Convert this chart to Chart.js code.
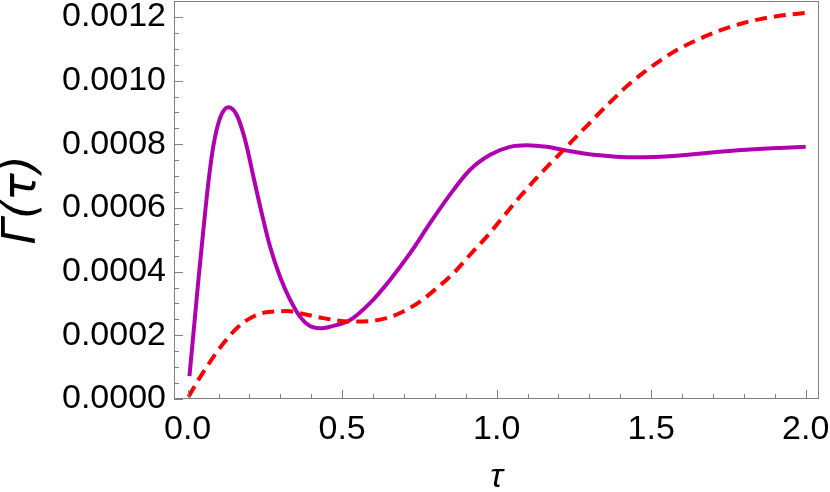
<!DOCTYPE html>
<html>
<head>
<meta charset="utf-8">
<script src="https://cdn.jsdelivr.net/npm/chart.js@4"></script>
<style>
  body { margin: 0; background: #fff; }
  canvas { display: block; }
</style>
</head>
<body>
<canvas id="chart" width="830" height="492"></canvas>
<script>
// purple solid curve
const tauA = [0.006, 0.019, 0.035, 0.051, 0.067, 0.083, 0.105, 0.132, 0.159, 0.186, 0.213, 0.240, 0.267, 0.299, 0.332, 0.364, 0.396, 0.429, 0.461, 0.526, 0.590, 0.655, 0.720, 0.785, 0.849, 0.914, 0.979, 1.043, 1.097, 1.162, 1.227, 1.313, 1.453, 1.583, 1.744, 1.906, 2.0];
const gammaA = [0.000072, 0.000207, 0.000374, 0.000531, 0.000678, 0.000793, 0.000882, 0.000916, 0.000892, 0.000814, 0.000698, 0.000583, 0.000478, 0.000384, 0.000311, 0.000258, 0.000229, 0.000222, 0.000227, 0.000248, 0.000301, 0.000374, 0.000458, 0.000553, 0.000642, 0.000720, 0.000767, 0.000792, 0.000797, 0.000792, 0.000780, 0.000767, 0.000759, 0.000764, 0.000778, 0.000788, 0.000792];

// red dashed curve
const tauB = [0.003, 0.035, 0.073, 0.116, 0.159, 0.208, 0.267, 0.321, 0.375, 0.439, 0.526, 0.590, 0.644, 0.698, 0.752, 0.806, 0.860, 0.914, 0.968, 1.022, 1.076, 1.130, 1.194, 1.270, 1.367, 1.421, 1.475, 1.529, 1.583, 1.636, 1.690, 1.744, 1.798, 1.852, 1.906, 1.982, 2.0];
const gammaB = [0.000007, 0.000060, 0.000117, 0.000175, 0.000222, 0.000257, 0.000274, 0.000276, 0.000267, 0.000254, 0.000243, 0.000245, 0.000254, 0.000275, 0.000306, 0.000348, 0.000395, 0.000453, 0.000510, 0.000573, 0.000636, 0.000695, 0.000760, 0.000836, 0.000932, 0.000982, 0.001025, 0.001063, 0.001096, 0.001122, 0.001145, 0.001165, 0.001181, 0.001193, 0.001202, 0.001211, 0.001213];

const xTicks = [0, 0.5, 1.0, 1.5, 2.0];
const xMinor = [0.1, 0.2, 0.3, 0.4, 0.6, 0.7, 0.8, 0.9, 1.1, 1.2, 1.3, 1.4, 1.6, 1.7, 1.8, 1.9];
const yTicks = [0, 0.0002, 0.0004, 0.0006, 0.0008, 0.001, 0.0012];
const yMinor = [0.00005, 0.0001, 0.00015, 0.00025, 0.0003, 0.00035, 0.00045, 0.0005, 0.00055,
  0.00065, 0.0007, 0.00075, 0.00085, 0.0009, 0.00095, 0.00105, 0.0011, 0.00115];

const fam = "'Liberation Sans', Arial, sans-serif";
const frameColor = "#808080";

const toPts = (xs, ys) => xs.map((x, i) => ({ x: x, y: ys[i] }));

// frame box + inward ticks (Mathematica style)
const frameTicks = {
  id: "frameTicks",
  afterDraw(chart) {
    const c = chart.ctx, a = chart.chartArea;
    const sx = chart.scales.x, sy = chart.scales.y;
    c.save();
    c.strokeStyle = frameColor;
    c.lineWidth = 1;
    c.strokeRect(a.left + 0.5, a.top + 0.5, a.right - a.left - 1, a.bottom - a.top - 1);
    c.beginPath();
    const tickX = (v, len) => {
      const p = Math.round(sx.getPixelForValue(v)) + 0.5;
      c.moveTo(p, a.bottom); c.lineTo(p, a.bottom - len);
    };
    const tickY = (v, len) => {
      const p = Math.round(sy.getPixelForValue(v)) + 0.5;
      c.moveTo(a.left, p); c.lineTo(a.left + len, p);
    };
    xTicks.forEach(v => tickX(v, 9));
    xMinor.forEach(v => tickX(v, 5));
    yTicks.forEach(v => tickY(v, 9));
    yMinor.forEach(v => tickY(v, 5));
    c.stroke();
    c.restore();
  }
};

const ctx = document.getElementById("chart").getContext("2d");
const chart = new Chart(ctx, {
  type: "line",
  data: {
    datasets: [{
      data: toPts(tauB, gammaB),
      borderColor: "#ff0000",
      borderWidth: 4,
      borderDash: [12, 7],
      pointRadius: 0,
      cubicInterpolationMode: "monotone"
    }, {
      data: toPts(tauA, gammaA),
      borderColor: "#b000b0",
      borderWidth: 4,
      pointRadius: 0,
      cubicInterpolationMode: "monotone"
    }]
  },
  options: {
    responsive: false,
    animation: false,
    devicePixelRatio: 1,
    layout: { padding: { top: 1, right: 11, left: 0, bottom: 0 } },
    plugins: { legend: { display: false }, tooltip: { enabled: false } },
    scales: {
      x: {
        type: "linear",
        min: -0.044,
        max: 2.043,
        afterBuildTicks: s => { s.ticks = xTicks.map(v => ({ value: v })); },
        afterFit: s => { s.height = 93; s.paddingLeft = 0; s.paddingRight = 0; },
        ticks: {
          callback: v => v.toFixed(1),
          font: { family: fam, size: 34, lineHeight: 1 },
          color: "#000",
          padding: 14,
          maxRotation: 0
        },
        grid: { display: false, drawTicks: false },
        border: { display: false },
        title: {
          display: true,
          text: "τ",
          font: { family: fam, size: 34, style: "italic", lineHeight: 1 },
          color: "#000",
          padding: { top: 0, bottom: -3 }
        }
      },
      y: {
        type: "linear",
        min: 0,
        max: 0.00125,
        afterBuildTicks: s => { s.ticks = yTicks.map(v => ({ value: v })); },
        afterFit: s => { s.width = 174; s.paddingTop = 0; s.paddingBottom = 0; },
        ticks: {
          callback: v => v.toFixed(4),
          font: { family: fam, size: 34, lineHeight: 1 },
          color: "#000",
          padding: 8
        },
        grid: { display: false, drawTicks: false },
        border: { display: false },
        title: {
          display: true,
          text: "Γ(τ)",
          font: { family: "'DejaVu Sans', sans-serif", size: 46, style: "italic", lineHeight: 1 },
          color: "#000",
          padding: { top: 0, bottom: 0 }
        }
      }
    }
  },
  plugins: [frameTicks]
});
</script>
</body>
</html>
